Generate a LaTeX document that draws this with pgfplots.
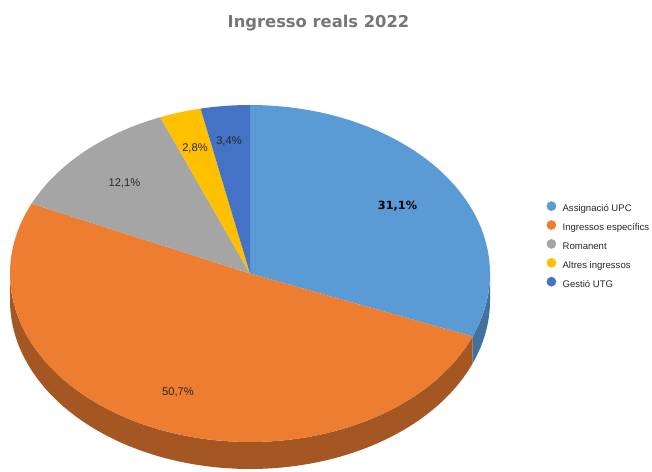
\documentclass[border=0pt]{standalone}
\usepackage{pgfplots}
\pgfplotsset{compat=1.18}
\usepgfplotslibrary{fillbetween}
\usepackage{fontspec}
\setmainfont{Liberation Sans}
\newfontfamily\titlefont{DejaVu Sans}
\definecolor{cA}{HTML}{5B9BD5}
\definecolor{cB}{HTML}{ED7D31}
\definecolor{cC}{HTML}{A5A5A5}
\definecolor{cD}{HTML}{FFC000}
\definecolor{cE}{HTML}{4472C4}
\definecolor{cAd}{HTML}{41719C}
\definecolor{cBd}{HTML}{A55723}
\definecolor{titlegray}{HTML}{767676}
\definecolor{labelc}{HTML}{262626}
% shares (percent)
\def\pA{31.1}\def\pB{50.7}\def\pC{12.1}\def\pD{2.8}\def\pE{3.4}
\pgfmathsetmacro\aA{90-3.6*\pA}
\pgfmathsetmacro\aB{\aA-3.6*\pB}
\pgfmathsetmacro\aC{\aB-3.6*\pC}
\pgfmathsetmacro\aD{\aC-3.6*\pD}
\def\aE{-270}
\def\cx{250}\def\cy{198.5}\def\ra{240}\def\rb{168.5}\def\dd{27}
\pgfplotsset{dot/.style={legend image code/.code={\fill[#1] (0bp,3.2bp) circle (4.6bp);}}}
\begin{document}
\begin{tikzpicture}
\begin{axis}[x=1bp,y=1bp,xmin=0,xmax=652,ymin=0,ymax=472,
  scale only axis, hide axis, clip=false,
  legend style={at={(axis cs:546.4,270.9)},anchor=north west,draw=none,fill=none,
    inner sep=0pt, font=\fontsize{9.6}{11}\selectfont, row sep=6.4bp, text=labelc,
    nodes={inner xsep=1bp, inner ysep=0pt, text height=7bp, text depth=2bp},
    /tikz/every odd column/.append style={column sep=5.4bp}},
  legend cell align=left]
\path (axis cs:0,0) rectangle (axis cs:652,472);
% side walls
\addplot[draw=none,name path=oT,variable=\t,domain=-180:\aA,samples=90,forget plot]
  ({\cx+\ra*cos(\t)},{\cy+\rb*sin(\t)});
\addplot[draw=none,name path=oB,variable=\t,domain=-180:\aA,samples=90,forget plot]
  ({\cx+\ra*cos(\t)},{\cy-\dd+\rb*sin(\t)});
\addplot[fill=cBd,draw=none,forget plot] fill between[of=oT and oB];
\addplot[draw=none,name path=bT,variable=\t,domain=\aA:0,samples=30,forget plot]
  ({\cx+\ra*cos(\t)},{\cy+\rb*sin(\t)});
\addplot[draw=none,name path=bB,variable=\t,domain=\aA:0,samples=30,forget plot]
  ({\cx+\ra*cos(\t)},{\cy-\dd+\rb*sin(\t)});
\addplot[fill=cAd,draw=none,forget plot] fill between[of=bT and bB];
% top faces
\addplot[fill=cA,draw=none,variable=\t,domain=\aA:90,samples=60,forget plot]
  ({\cx+\ra*cos(\t)},{\cy+\rb*sin(\t)}) -- (axis cs:\cx,\cy) -- cycle;
\addplot[fill=cB,draw=none,variable=\t,domain=\aB:\aA,samples=120,forget plot]
  ({\cx+\ra*cos(\t)},{\cy+\rb*sin(\t)}) -- (axis cs:\cx,\cy) -- cycle;
\addplot[fill=cC,draw=none,variable=\t,domain=\aC:\aB,samples=40,forget plot]
  ({\cx+\ra*cos(\t)},{\cy+\rb*sin(\t)}) -- (axis cs:\cx,\cy) -- cycle;
\addplot[fill=cD,draw=none,variable=\t,domain=\aD:\aC,samples=15,forget plot]
  ({\cx+\ra*cos(\t)},{\cy+\rb*sin(\t)}) -- (axis cs:\cx,\cy) -- cycle;
\addplot[fill=cE,draw=none,variable=\t,domain=\aE:\aD,samples=15,forget plot]
  ({\cx+\ra*cos(\t)},{\cy+\rb*sin(\t)}) -- (axis cs:\cx,\cy) -- cycle;
% labels
\node[font=\titlefont\fontsize{11.3}{13}\selectfont\bfseries,text=black] at (axis cs:397.5,266) {31,1\%};
\node[font=\fontsize{11.2}{13}\selectfont,text=labelc] at (axis cs:178,80) {50,7\%};
\node[font=\fontsize{11.2}{13}\selectfont,text=labelc] at (axis cs:124.5,288.5) {12,1\%};
\node[font=\fontsize{11.2}{13}\selectfont,text=labelc] at (axis cs:195,324) {2,8\%};
\node[font=\fontsize{11.2}{13}\selectfont,text=labelc] at (axis cs:229,331) {3,4\%};
% title
\node[font=\titlefont\fontsize{16.4}{18}\selectfont\bfseries,text=titlegray] at (axis cs:318.5,449) {Ingresso reals 2022};
% legend
\addlegendimage{dot=cA}\addlegendentry{Assignació UPC}
\addlegendimage{dot=cB}\addlegendentry{Ingressos específics}
\addlegendimage{dot=cC}\addlegendentry{Romanent}
\addlegendimage{dot=cD}\addlegendentry{Altres ingressos}
\addlegendimage{dot=cE}\addlegendentry{Gestió UTG}
\end{axis}
\end{tikzpicture}
\end{document}
